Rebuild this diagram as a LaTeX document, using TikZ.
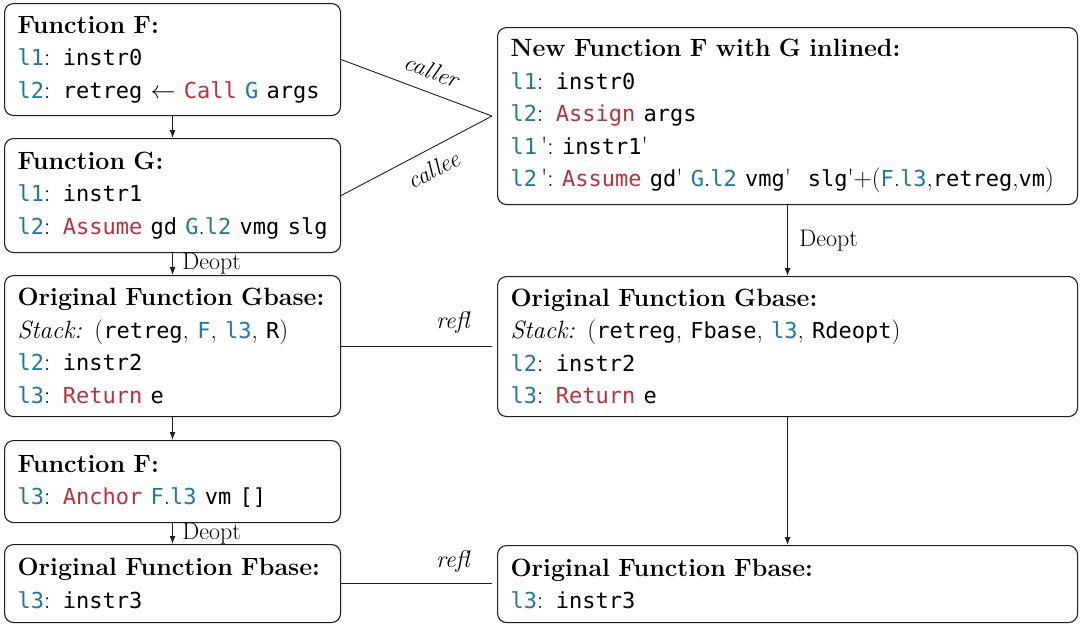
\documentclass[tikz,border=0pt]{standalone}
\usepackage{fontspec}
\setmonofont{DejaVu Sans Mono}[Scale=0.88]
\usetikzlibrary{arrows.meta}
\definecolor{lblue}{RGB}{33,118,163}
\definecolor{kred}{RGB}{188,48,58}
\definecolor{edge}{RGB}{30,30,30}
\newcommand\lb[1]{\textcolor{lblue}{\texttt{#1}}}
\newcommand\kw[1]{\textcolor{kred}{\texttt{#1}}}
\newcommand\tx[1]{\texttt{#1}}
\newcommand\pr{\textquotesingle}
\begin{document}
\begin{tikzpicture}[x=1pt,y=1pt,
  box/.style={draw=edge, line width=1.1pt, rounded corners=9pt, anchor=north west,
    align=left, inner xsep=13pt, inner ysep=0pt,
    font=\fontsize{25}{32.5}\selectfont},
  leftbox/.style={box, text width=310pt},
  rightbox/.style={box, text width=554pt},
  conn/.style={-{Latex[length=8pt,width=6pt]}, line width=0.9pt, draw=edge},
  link/.style={line width=0.9pt, draw=edge},
  lab/.style={font=\fontsize{24}{28}\selectfont\itshape},
  dlab/.style={font=\fontsize{24}{28}\selectfont}]
\useasboundingbox (0,0) rectangle (1085,-624);

% left column
\node[leftbox, minimum height=112pt] (f1) at (4,-3) {\textbf{Function F:}\\
  \lb{l1}: \tx{instr0}\\
  \lb{l2}: \tx{retreg} $\leftarrow$ \kw{Call} \lb{G} \tx{args}};
\node[leftbox, minimum height=114pt] (g) at (4,-138) {\textbf{Function G:}\\
  \lb{l1}: \tx{instr1}\\
  \lb{l2}: \kw{Assume} \tx{gd} \lb{G}.\lb{l2} \tx{vmg} \tx{slg}};
\node[leftbox, minimum height=141pt] (gbl) at (4,-275) {\textbf{Original Function Gbase:}\\
  \textit{Stack:} (\tx{retreg}, \lb{F}, \lb{l3}, \tx{R})\\
  \lb{l2}: \tx{instr2}\\
  \lb{l3}: \kw{Return} \tx{e}};
\node[leftbox, minimum height=82pt] (f2) at (4,-440) {\textbf{Function F:}\\
  \lb{l3}: \kw{Anchor} \lb{F}.\lb{l3} \tx{vm} \tx{[]}};
\node[leftbox, minimum height=78pt] (fbl) at (4,-544) {\textbf{Original Function Fbase:}\\
  \lb{l3}: \tx{instr3}};

% right column
\node[rightbox, minimum height=177pt] (nf) at (497,-27) {\textbf{New Function F with G inlined:}\\
  \lb{l1}: \tx{instr0}\\
  \lb{l2}: \kw{Assign} \tx{args}\\
  \lb{l1}\,\pr:\ \tx{instr1}\pr\\
  \mbox{\lb{l2}\,\pr:\ \kw{Assume} \tx{gd}\pr\ \lb{G}.\lb{l2} \tx{vmg}\pr\ \ \tx{slg}\pr+(\lb{F}.\lb{l3},\tx{retreg},\tx{vm})}};
\node[rightbox, minimum height=140pt] (gbr) at (497,-276) {\textbf{Original Function Gbase:}\\
  \textit{Stack:} (\tx{retreg}, \tx{Fbase}, \lb{l3}, \tx{Rdeopt})\\
  \lb{l2}: \tx{instr2}\\
  \lb{l3}: \kw{Return} \tx{e}};
\node[rightbox, minimum height=77pt] (fbr) at (497,-545) {\textbf{Original Function Fbase:}\\
  \lb{l3}: \tx{instr3}};

% vertical arrows
\draw[conn] (f1.south) -- (g.north);
\draw[conn] (g.south) -- node[dlab, right, xshift=6pt] (d1) {Deopt} (gbl.north);
\draw[conn] (gbl.south) -- (f2.north);
\draw[conn] (f2.south) -- node[dlab, right, xshift=6pt] (d2) {Deopt} (fbl.north);
\draw[conn] (nf.south) -- node[dlab, right, xshift=8pt] (d3) {Deopt} (gbr.north);
\draw[conn] (gbr.south) -- (fbr.north);

% caller / callee
\coordinate (m) at ([xshift=-5pt]nf.west);
\draw[link] (f1.east) -- node[lab, sloped, above, pos=0.55, yshift=9pt] (lc1) {caller} (m);
\draw[link] (g.east) -- node[lab, sloped, below, pos=0.55, yshift=-8pt] (lc2) {callee} (m);

% refl
\coordinate (r1) at ([xshift=-5pt]gbr.west |- gbl.east);
\coordinate (r2) at ([xshift=-5pt]fbr.west |- fbl.east);
\draw[link] (gbl.east) -- node[lab, above, pos=0.74, yshift=9pt] (rf1) {refl} (r1);
\draw[link] (fbl.east) -- node[lab, above, pos=0.74, yshift=7pt] (rf2) {refl} (r2);
\end{tikzpicture}
\end{document}
